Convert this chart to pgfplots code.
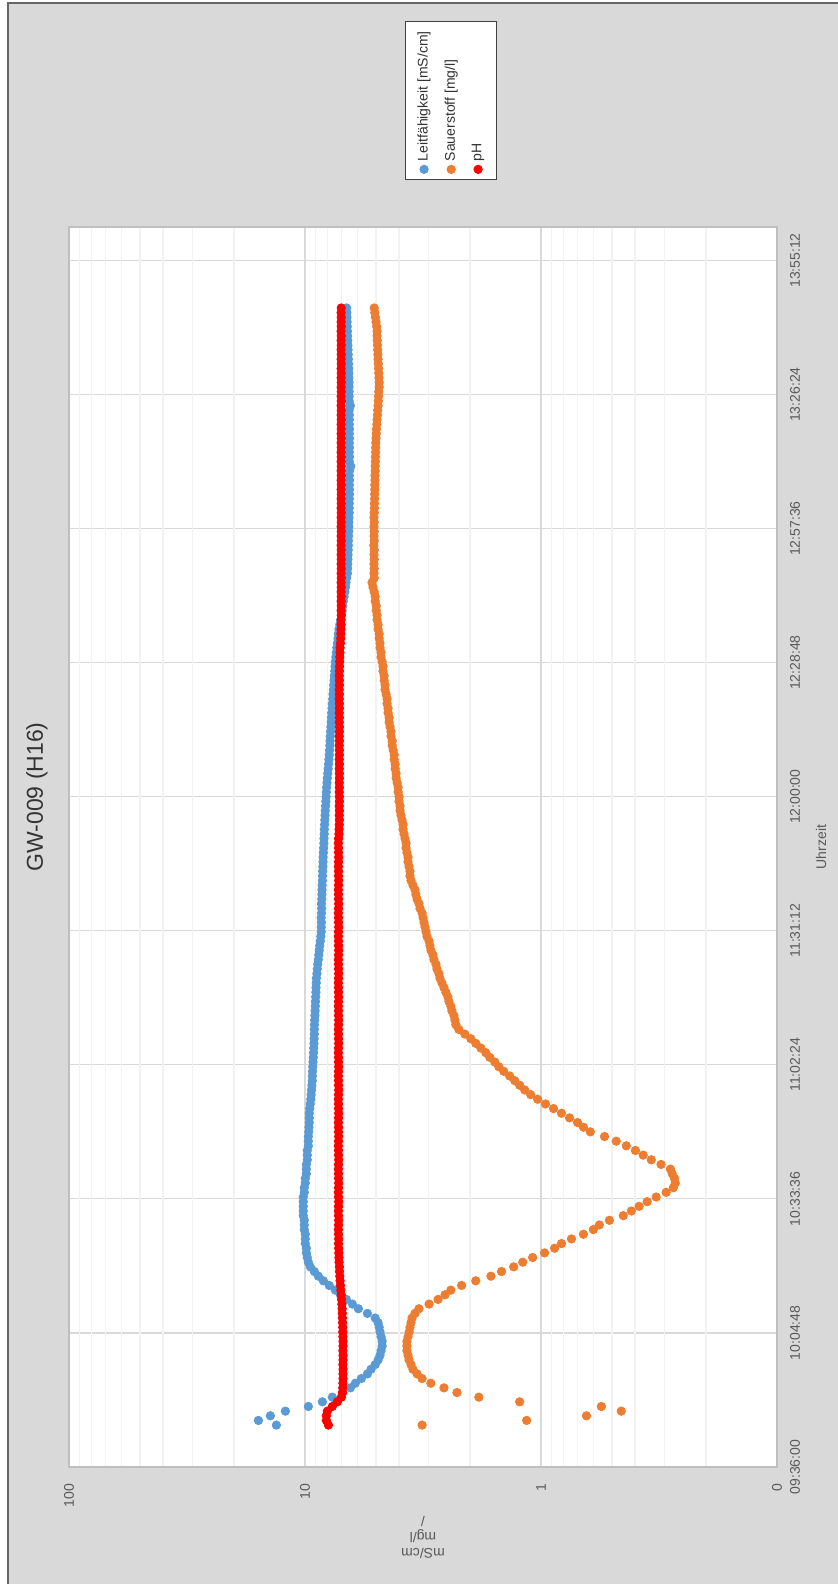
\documentclass[border=0pt]{standalone}
\usepackage{fontspec}
\setmainfont{Liberation Sans}
\usepackage{pgfplots}
\usepackage{pgfplotstable}
\pgfplotsset{compat=1.18}

\definecolor{lfblue}{HTML}{5B9BD5}
\definecolor{otwo}{HTML}{ED7D31}
\definecolor{phred}{HTML}{FF0000}
\definecolor{chartbg}{HTML}{D9D9D9}
\definecolor{txtgray}{HTML}{595959}

% t = Minuten seit 09:36:00, L = Leitfaehigkeit, S = Sauerstoff, P = pH
\pgfplotstableread{
t L S P
9 13.22 3.19 7.96
10 15.75 1.150 8.12
11 14.02 0.642 8.12
12 12.11 0.457 8.04
13 9.68 0.555 7.66
14 8.44 1.231 7.29
15 7.66 1.834 7.01
16 6.94 2.27 6.93
17 6.42 2.578 6.92
18 6.12 2.93 6.91
19 5.77 3.19 6.90
20 5.44 3.35 6.90
21 5.25 3.49 6.90
22 5.04 3.555 6.91
23 4.90 3.624 6.90
24 4.81 3.66 6.90
25 4.76 3.70 6.91
26 4.71 3.70 6.90
27 4.71 3.70 6.90
28 4.76 3.66 6.91
29 4.81 3.62 6.92
30 4.85 3.59 6.92
31 4.90 3.555 6.93
32 5.04 3.52 6.94
33 5.44 3.42 6.95
34 5.94 3.29 6.96
35 6.30 2.98 6.98
36 6.68 2.73 7.00
37 7.08 2.55 7.02
38 7.44 2.41 7.05
39 7.89 2.17 7.08
40 8.36 1.89 7.10
41 8.78 1.63 7.12
42 9.13 1.47 7.14
43 9.49 1.305 7.15
44 9.68 1.195 7.17
45 9.78 1.085 7.18
46 9.87 0.966 7.19
47 9.87 0.876 7.20
48 9.97 0.819 7.21
49 9.97 0.743 7.20
50 9.97 0.661 7.21
51 10.07 0.600 7.22
52 10.07 0.566 7.21
53 10.07 0.513 7.20
54 10.17 0.448 7.21
55 10.17 0.414 7.22
56 10.17 0.384 7.21
57 10.17 0.355 7.20
58 10.17 0.325 7.21
59 10.07 0.295 7.22
60 10.07 0.275 7.21
61 9.97 0.270 7.20
62 9.97 0.272 7.21
63 9.87 0.278 7.21
64 9.87 0.283 7.22
65 9.87 0.310 7.21
66 9.78 0.341 7.20
67 9.78 0.369 7.21
68 9.78 0.398 7.21
69 9.68 0.435 7.22
70 9.68 0.480 7.21
71 9.68 0.538 7.20
72 9.64 0.618 7.21
73 9.62 0.661 7.21
74 9.59 0.700 7.22
75 9.59 0.757 7.21
76 9.59 0.819 7.20
77 9.55 0.885 7.21
78 9.50 0.957 7.21
79 9.45 1.033 7.22
80 9.42 1.106 7.21
81 9.38 1.172 7.20
82 9.35 1.231 7.21
83 9.31 1.292 7.21
84 9.31 1.357 7.22
85 9.29 1.438 7.21
86 9.27 1.510 7.20
87 9.25 1.569 7.21
88 9.22 1.648 7.21
89 9.20 1.713 7.22
90 9.18 1.798 7.21
91 9.16 1.889 7.20
92 9.15 1.983 7.21
93 9.13 2.102 7.21
94 9.13 2.229 7.22
95 9.12 2.294 7.21
96 9.10 2.316 7.20
97 9.08 2.339 7.21
98 9.06 2.385 7.21
99 9.04 2.41 7.22
100 9.03 2.456 7.21
101 9.01 2.48 7.20
102 8.99 2.53 7.21
103 8.98 2.578 7.21
104 8.96 2.63 7.22
105 8.95 2.68 7.21
106 8.90 2.707 7.20
107 8.87 2.76 7.21
108 8.83 2.787 7.21
109 8.78 2.842 7.22
110 8.74 2.87 7.21
111 8.70 2.927 7.20
112 8.66 2.955 7.21
113 8.61 2.983 7.21
114 8.57 3.042 7.22
115 8.53 3.07 7.21
116 8.53 3.10 7.20
117 8.52 3.132 7.21
118 8.54 3.16 7.21
119 8.51 3.19 7.22
120 8.50 3.255 7.21
121 8.52 3.288 7.20
122 8.49 3.35 7.21
123 8.48 3.39 7.21
124 8.47 3.42 7.22
125 8.46 3.49 7.21
126 8.44 3.555 7.20
127 8.43 3.59 7.21
128 8.42 3.59 7.21
129 8.40 3.624 7.22
130 8.39 3.66 7.21
131 8.38 3.66 7.20
132 8.36 3.70 7.21
133 8.34 3.73 7.21
134 8.32 3.73 7.22
135 8.31 3.77 7.21
136 8.29 3.805 7.18
137 8.28 3.84 7.17
138 8.26 3.84 7.16
139 8.24 3.88 7.15
140 8.22 3.92 7.16
141 8.20 3.955 7.15
142 8.18 3.955 7.16
143 8.16 3.995 7.15
144 8.14 3.995 7.15
145 8.12 4.03 7.16
146 8.10 4.03 7.15
147 8.07 4.07 7.16
148 8.04 4.11 7.15
149 8.01 4.11 7.15
150 7.98 4.15 7.16
151 7.95 4.15 7.15
152 7.92 4.19 7.16
153 7.89 4.19 7.15
154 7.87 4.23 7.15
155 7.85 4.27 7.16
156 7.83 4.27 7.15
157 7.81 4.32 7.16
158 7.79 4.32 7.15
159 7.77 4.36 7.15
160 7.75 4.40 7.16
161 7.73 4.40 7.15
162 7.71 4.445 7.16
163 7.68 4.445 7.15
164 7.66 4.49 7.15
165 7.63 4.49 7.16
166 7.61 4.53 7.15
167 7.58 4.58 7.16
168 7.56 4.58 7.15
169 7.53 4.62 7.15
170 7.51 4.62 7.16
171 7.48 4.67 7.15
172 7.46 4.67 7.14
173 7.44 4.71 7.13
174 7.40 4.76 7.12
175 7.36 4.76 7.11
176 7.33 4.81 7.10
177 7.29 4.81 7.08
178 7.25 4.85 7.06
179 7.22 4.85 7.05
180 7.18 4.90 7.04
181 7.12 4.90 7.03
182 7.06 4.95 7.03
183 7.01 4.95 7.02
184 6.96 4.99 7.03
185 6.92 4.99 7.02
186 6.88 5.04 7.03
187 6.83 5.04 7.02
188 6.78 5.09 7.03
189 6.74 5.15 7.02
190 6.70 5.20 7.03
191 6.66 5.09 7.02
192 6.61 5.10 7.03
193 6.60 5.09 7.02
194 6.59 5.10 7.03
195 6.58 5.09 7.02
196 6.57 5.10 7.03
197 6.56 5.09 7.02
198 6.55 5.11 7.03
199 6.55 5.09 7.02
200 6.54 5.10 7.03
201 6.53 5.09 7.02
202 6.52 5.10 7.03
203 6.52 5.09 7.02
204 6.51 5.10 7.03
205 6.50 5.09 7.02
206 6.50 5.08 7.03
207 6.49 5.08 7.02
208 6.49 5.07 7.03
209 6.48 5.07 7.02
210 6.48 5.06 7.03
211 6.49 5.06 7.02
212 6.48 5.05 7.03
213 6.49 5.05 7.02
214 6.48 5.04 7.03
215 6.40 5.04 7.02
216 6.49 5.03 7.03
217 6.48 5.03 7.02
218 6.49 5.02 7.03
219 6.48 5.02 7.02
220 6.49 5.01 7.03
221 6.48 5.00 7.02
222 6.49 4.99 7.03
223 6.48 4.98 7.02
224 6.49 4.96 7.03
225 6.49 4.95 7.02
226 6.49 4.93 7.03
227 6.50 4.92 7.02
228 6.42 4.90 7.03
229 6.50 4.89 7.02
230 6.50 4.88 7.03
231 6.50 4.87 7.02
232 6.51 4.85 7.03
233 6.51 4.85 7.02
234 6.52 4.86 7.03
235 6.52 4.87 7.02
236 6.53 4.88 7.03
237 6.54 4.89 7.02
238 6.55 4.90 7.03
239 6.56 4.91 7.02
240 6.57 4.92 7.03
241 6.58 4.93 7.02
242 6.59 4.94 7.03
243 6.60 4.95 7.02
244 6.61 4.95 7.03
245 6.62 4.97 7.02
246 6.63 5.00 7.03
247 6.64 5.03 7.02
248 6.65 5.06 7.03
249 6.66 5.09 7.02
}\messung

\begin{document}
\begin{tikzpicture}[rotate=90, transform shape, x=1pt, y=1pt]
  % Seite genau so gross wie der Ausschnitt; Rahmen links/unten abgeschnitten
  \useasboundingbox (0,0) rectangle (792,419);
  \fill[white] (0,0) rectangle (792,419);
  \filldraw[fill=chartbg, draw=black!60, line width=1pt] (-5,-5) rectangle (790.5,415);
  \node[font=\fontsize{11.5}{14}\selectfont, text=black!80] at (393.5,400.5) {GW-009 (H16)};
  \begin{axis}[
      at={(58.5pt,30.5pt)}, anchor=south west,
      scale only axis,
      width=620pt, height=354pt,
      axis background/.style={fill=white},
      xmin=0, xmax=266.4,
      ymode=log, ymin=0.1, ymax=100,
      xtick={0,28.8,57.6,86.4,115.2,144,172.8,201.6,230.4,259.2},
      xticklabels={09:36:00,10:04:48,10:33:36,11:02:24,11:31:12,12:00:00,12:28:48,12:57:36,13:26:24,13:55:12},
      ytick={0.1,1,10,100},
      yticklabels={0,1,10,100},
      xmajorgrids, ymajorgrids, yminorgrids,
      major grid style={draw=black!15, line width=0.6pt},
      minor grid style={draw=black!5, line width=0.6pt},
      axis line style={draw=black!25, line width=0.8pt},
      major tick length=0pt, minor tick length=0pt,
      tick style={draw=none},
      /pgf/number format/assume math mode=true,
      ticklabel style={font=\fontsize{7}{8}\selectfont, text=txtgray},
      xticklabel style={yshift=-3pt},
      yticklabel style={xshift=-5pt},
      xlabel={Uhrzeit},
      xlabel style={at={(axis description cs:0.5,0)}, anchor=center, yshift=-22pt,
        font=\fontsize{7}{8}\selectfont, text=txtgray},
      ylabel={mS/cm\\mg/l\\/},
      ylabel style={at={(axis description cs:-0.0565,0.5)}, anchor=center,
        align=center, font=\fontsize{7}{8}\selectfont, text=txtgray},
      legend style={at={(axis description cs:1,0.4605)}, anchor=west, xshift=23.5pt,
        draw=black!75, fill=white, font=\fontsize{7}{8}\selectfont, text=black!80,
        row sep=3pt, inner ysep=4pt, inner xsep=3pt},
      legend cell align=left,
      legend image code/.code={\draw[#1, mark repeat=2, mark phase=2]
        plot coordinates {(0cm,0cm) (0.1cm,0cm) (0.2cm,0cm)};},
      clip mode=individual,
    ]
    \addplot[only marks, mark=*, mark size=2.1pt, color=lfblue] table[x=t, y=L] {\messung};
    \addlegendentry{Leitfähigkeit [mS/cm]}
    \addplot[only marks, mark=*, mark size=2.1pt, color=otwo] table[x=t, y=S] {\messung};
    \addlegendentry{Sauerstoff [mg/l]}
    \addplot[only marks, mark=*, mark size=2.1pt, color=phred] table[x=t, y=P] {\messung};
    \addlegendentry{pH}
  \end{axis}
\end{tikzpicture}
\end{document}
